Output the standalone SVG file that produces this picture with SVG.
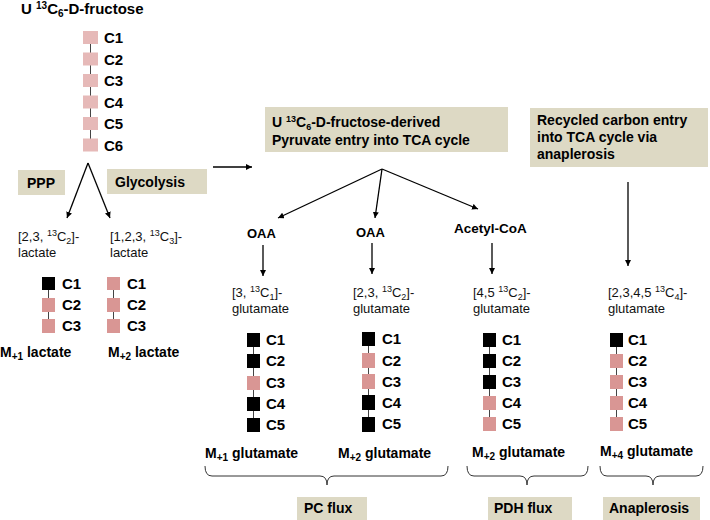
<svg xmlns="http://www.w3.org/2000/svg" width="710" height="520" viewBox="0 0 710 520">
<defs>
<style>
.b{font-family:"Liberation Sans",Arial,sans-serif;font-weight:bold;fill:#000}
.n{font-family:"Liberation Sans",Arial,sans-serif;font-size:13px;fill:#111}
.lab{font-size:15px}
.box{fill:#ddd9c4}
.pl{fill:#e6b9b8}
.pk{fill:#d99694}
.bk{fill:#000}
.ln{stroke:#444;stroke-width:1;fill:none}
.ar{stroke:#000;stroke-width:1.3;fill:none;marker-end:url(#ah)}
.br{stroke:#333;stroke-width:1;fill:none}
</style>
<marker id="ah" viewBox="0 0 10 10" refX="10" refY="5" markerWidth="6" markerHeight="6" orient="auto" markerUnits="userSpaceOnUse"><path d="M0,0 L10,5 L0,10 z" fill="#000"/></marker>
</defs>
<rect width="710" height="520" fill="#fff"/>

<g id="fructose">
<text class="b" x="21" y="14" font-size="15">U <tspan font-size="10" dy="-5">13</tspan><tspan dy="5">C</tspan><tspan font-size="10" dy="3">6</tspan><tspan dy="-3">-D-fructose</tspan></text>
<line class="ln" x1="90.5" y1="37" x2="90.5" y2="145"/>
<rect class="pl" x="83" y="31" width="15" height="13"/>
<rect class="pl" x="83" y="52.5" width="15" height="13"/>
<rect class="pl" x="83" y="74" width="15" height="13"/>
<rect class="pl" x="83" y="95.5" width="15" height="13"/>
<rect class="pl" x="83" y="117" width="15" height="13"/>
<rect class="pl" x="83" y="138.5" width="15" height="13"/>
<text class="b lab" x="104" y="43">C1</text>
<text class="b lab" x="104" y="64.5">C2</text>
<text class="b lab" x="104" y="86">C3</text>
<text class="b lab" x="104" y="107.5">C4</text>
<text class="b lab" x="104" y="129">C5</text>
<text class="b lab" x="104" y="150.5">C6</text>
</g>

<g id="ppp">
<rect class="box" x="18" y="170" width="47" height="25"/>
<text class="b" x="27" y="188" font-size="14">PPP</text>
</g>
<g id="glycolysis">
<rect class="box" x="107" y="169" width="100" height="25"/>
<text class="b" x="115" y="187" font-size="14">Glycolysis</text>
</g>

<g id="pyruvate-header">
<rect class="box" x="265" y="107" width="243" height="45"/>
<text class="b" x="272" y="127" font-size="14">U <tspan font-size="9" dy="-5">13</tspan><tspan dy="5">C</tspan><tspan font-size="9" dy="3">6</tspan><tspan dy="-3">-D-fructose-derived</tspan></text>
<text class="b" x="272" y="145" font-size="14">Pyruvate entry into TCA cycle</text>
</g>

<g id="recycled-header">
<rect class="box" x="530" y="108" width="178" height="59"/>
<text class="b" x="537" y="125" font-size="14">Recycled carbon entry</text>
<text class="b" x="537" y="142" font-size="14">into TCA cycle via</text>
<text class="b" x="537" y="159" font-size="14">anaplerosis</text>
</g>

<g id="lactate-m1">
<text class="n" x="18" y="241">[2,3, <tspan font-size="9" dy="-5">13</tspan><tspan dy="5">C</tspan><tspan font-size="9" dy="3">2</tspan><tspan dy="-3">]-</tspan></text>
<text class="n" x="18" y="257">lactate</text>
<line class="ln" x1="48.5" y1="283" x2="48.5" y2="326"/>
<rect class="bk" x="42" y="277" width="13" height="13"/>
<rect class="pk" x="42" y="298" width="13" height="14"/>
<rect class="pk" x="42" y="319" width="13" height="14"/>
<text class="b lab" x="62" y="289">C1</text>
<text class="b lab" x="62" y="310">C2</text>
<text class="b lab" x="62" y="331">C3</text>
<text class="b" x="0" y="357" font-size="14">M<tspan font-size="10" dy="3">+1</tspan><tspan dy="-3"> lactate</tspan></text>
</g>

<g id="lactate-m2">
<text class="n" x="110" y="241">[1,2,3, <tspan font-size="9" dy="-5">13</tspan><tspan dy="5">C</tspan><tspan font-size="9" dy="3">3</tspan><tspan dy="-3">]-</tspan></text>
<text class="n" x="110" y="257">lactate</text>
<line class="ln" x1="113.5" y1="283" x2="113.5" y2="326"/>
<rect class="pk" x="107" y="277" width="13" height="13"/>
<rect class="pk" x="107" y="298" width="13" height="14"/>
<rect class="pk" x="107" y="319" width="13" height="14"/>
<text class="b lab" x="127" y="289">C1</text>
<text class="b lab" x="127" y="310">C2</text>
<text class="b lab" x="127" y="331">C3</text>
<text class="b" x="108" y="357" font-size="14">M<tspan font-size="10" dy="3">+2</tspan><tspan dy="-3"> lactate</tspan></text>
</g>

<g id="oaa1"><text class="b" x="247" y="238" font-size="13">OAA</text></g>
<g id="oaa2"><text class="b" x="356" y="237" font-size="13">OAA</text></g>
<g id="acetylcoa"><text class="b" x="454" y="233" font-size="13.5">Acetyl-CoA</text></g>

<g id="glutamate-m1">
<text class="n" x="232" y="297">[3, <tspan font-size="9" dy="-5">13</tspan><tspan dy="5">C</tspan><tspan font-size="9" dy="3">1</tspan><tspan dy="-3">]-</tspan></text>
<text class="n" x="232" y="313">glutamate</text>
<line class="ln" x1="253.5" y1="340" x2="253.5" y2="424"/>
<rect class="bk" x="247" y="333" width="13" height="14"/>
<rect class="bk" x="247" y="354" width="13" height="14"/>
<rect class="pk" x="247" y="376" width="13" height="14"/>
<rect class="bk" x="247" y="397" width="13" height="14"/>
<rect class="bk" x="247" y="418" width="13" height="14"/>
<text class="b lab" x="266" y="345">C1</text>
<text class="b lab" x="266" y="366">C2</text>
<text class="b lab" x="266" y="388">C3</text>
<text class="b lab" x="266" y="409">C4</text>
<text class="b lab" x="266" y="430">C5</text>
<text class="b" x="205" y="458" font-size="14">M<tspan font-size="10" dy="3">+1</tspan><tspan dy="-3"> glutamate</tspan></text>
</g>

<g id="glutamate-m2a">
<text class="n" x="353" y="297">[2,3, <tspan font-size="9" dy="-5">13</tspan><tspan dy="5">C</tspan><tspan font-size="9" dy="3">2</tspan><tspan dy="-3">]-</tspan></text>
<text class="n" x="353" y="313">glutamate</text>
<line class="ln" x1="368.5" y1="340" x2="368.5" y2="424"/>
<rect class="bk" x="362" y="332" width="13" height="14"/>
<rect class="pk" x="362" y="353" width="13" height="15"/>
<rect class="pk" x="362" y="374" width="13" height="15"/>
<rect class="bk" x="362" y="395" width="13" height="15"/>
<rect class="bk" x="362" y="417" width="13" height="15"/>
<text class="b lab" x="382" y="344">C1</text>
<text class="b lab" x="382" y="366">C2</text>
<text class="b lab" x="382" y="387">C3</text>
<text class="b lab" x="382" y="408">C4</text>
<text class="b lab" x="382" y="429">C5</text>
<text class="b" x="338" y="458" font-size="14">M<tspan font-size="10" dy="3">+2</tspan><tspan dy="-3"> glutamate</tspan></text>
</g>

<g id="glutamate-m2b">
<text class="n" x="473" y="297">[4,5 <tspan font-size="9" dy="-5">13</tspan><tspan dy="5">C</tspan><tspan font-size="9" dy="3">2</tspan><tspan dy="-3">]-</tspan></text>
<text class="n" x="473" y="313">glutamate</text>
<line class="ln" x1="489.5" y1="340" x2="489.5" y2="424"/>
<rect class="bk" x="483" y="333" width="13" height="14"/>
<rect class="bk" x="483" y="354" width="13" height="14"/>
<rect class="bk" x="483" y="375" width="13" height="14"/>
<rect class="pk" x="483" y="396" width="13" height="14"/>
<rect class="pk" x="483" y="417" width="13" height="14"/>
<text class="b lab" x="502" y="345">C1</text>
<text class="b lab" x="502" y="366">C2</text>
<text class="b lab" x="502" y="387">C3</text>
<text class="b lab" x="502" y="408">C4</text>
<text class="b lab" x="502" y="429">C5</text>
<text class="b" x="472" y="457" font-size="14">M<tspan font-size="10" dy="3">+2</tspan><tspan dy="-3"> glutamate</tspan></text>
</g>

<g id="glutamate-m4">
<text class="n" x="608" y="297">[2,3,4,5 <tspan font-size="9" dy="-5">13</tspan><tspan dy="5">C</tspan><tspan font-size="9" dy="3">4</tspan><tspan dy="-3">]-</tspan></text>
<text class="n" x="608" y="313">glutamate</text>
<line class="ln" x1="616.5" y1="340" x2="616.5" y2="424"/>
<rect class="bk" x="610" y="333" width="13" height="14"/>
<rect class="pk" x="610" y="354" width="13" height="14"/>
<rect class="pk" x="610" y="375" width="13" height="14"/>
<rect class="pk" x="610" y="396" width="13" height="14"/>
<rect class="pk" x="610" y="417" width="13" height="14"/>
<text class="b lab" x="628" y="345">C1</text>
<text class="b lab" x="628" y="366">C2</text>
<text class="b lab" x="628" y="387">C3</text>
<text class="b lab" x="628" y="408">C4</text>
<text class="b lab" x="628" y="429">C5</text>
<text class="b" x="600" y="456" font-size="14">M<tspan font-size="10" dy="3">+4</tspan><tspan dy="-3"> glutamate</tspan></text>
</g>

<g id="pc-flux">
<rect class="box" x="297" y="497" width="70" height="23"/>
<text class="b" x="304" y="513" font-size="14">PC flux</text>
</g>
<g id="pdh-flux">
<rect class="box" x="488" y="497" width="84" height="23"/>
<text class="b" x="494" y="513" font-size="14">PDH flux</text>
</g>
<g id="anaplerosis">
<rect class="box" x="603" y="497" width="97" height="23"/>
<text class="b" x="609" y="513" font-size="14">Anaplerosis</text>
</g>

<g id="connectors">
<path class="ar" d="M88,163 L67,218"/>
<path class="ar" d="M88,163 L110,218"/>
<path class="ar" d="M213,167 L252,167"/>
<path class="ar" d="M382,169 L278,218"/>
<path class="ar" d="M382,169 L375,218"/>
<path class="ar" d="M382,169 L478,209"/>
<path class="ar" d="M263,245 L263,276"/>
<path class="ar" d="M372,243 L372,274"/>
<path class="ar" d="M492,243 L492,274"/>
<path class="ar" d="M628,182 L628,266"/>
<path class="br" d="M205,466 Q205,476 212,476 L320,476 Q327,476 327,485 Q327,476 334,476 L441,476 Q448,476 448,466"/>
<path class="br" d="M467,466 Q467,476 474,476 L520,476 Q527,476 527,485 Q527,476 534,476 L581,476 Q588,476 588,466"/>
<path class="br" d="M600,466 Q600,476 607,476 L646,476 Q653,476 653,485 Q653,476 660,476 L696,476 Q703,476 703,466"/>
</g>
</svg>
